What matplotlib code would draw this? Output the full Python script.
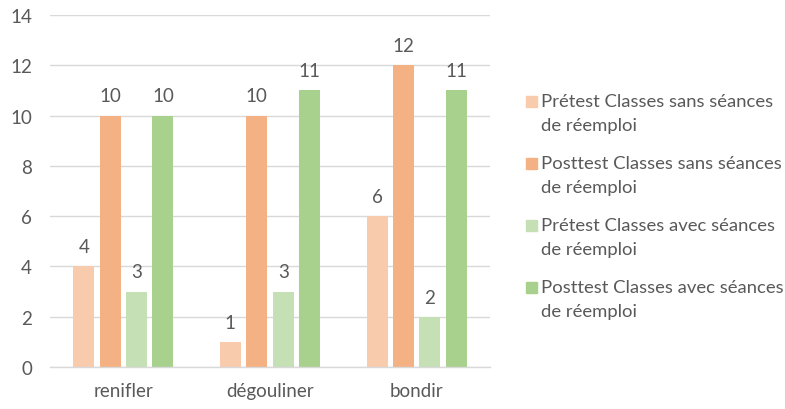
import numpy as np
import matplotlib.pyplot as plt
from matplotlib.patches import Rectangle

plt.rcParams['font.family'] = ['Lato', 'DejaVu Sans']

categories = ['renifler', 'dégouliner', 'bondir']
series_names = ['Prétest Classes sans séances\nde réemploi',
                'Posttest Classes sans séances\nde réemploi',
                'Prétest Classes avec séances\nde réemploi',
                'Posttest Classes avec séances\nde réemploi']
pretest_sans = [4, 1, 6]
posttest_sans = [10, 10, 12]
pretest_avec = [3, 3, 2]
posttest_avec = [10, 11, 11]
colors = ['#F8CBAD', '#F4B183', '#C5E0B4', '#A9D18E']

series = [pretest_sans, posttest_sans, pretest_avec, posttest_avec]
text_col = '#595959'
W, H = 785, 410

fig = plt.figure(figsize=(7.85, 4.1), dpi=100)
ax = fig.add_axes([50 / W, 1 - 368 / H, 440 / W, 352 / H])

x = np.arange(len(categories))
width = 0.143
step = 0.18
for i, (vals, c) in enumerate(zip(series, colors)):
    pos = x + (i - 1.5) * step
    bars = ax.bar(pos, vals, width, color=c, zorder=3)
    ax.bar_label(bars, padding=8, fontsize=13.5, color=text_col)

ax.set_xlim(-0.5, 2.5)
ax.set_ylim(0, 14)
ax.set_yticks(range(0, 15, 2))
ax.set_xticks(x)
ax.set_xticklabels(categories)
ax.tick_params(length=0, labelsize=13.5, colors=text_col)
ax.tick_params(axis='y', pad=13)
ax.tick_params(axis='x', pad=11)
ax.grid(axis='y', color='#D9D9D9', linewidth=1, zorder=0)
for s in ['top', 'right', 'left']:
    ax.spines[s].set_visible(False)
ax.spines['bottom'].set_color('#D9D9D9')
ax.spines['bottom'].set_linewidth(1)
ax.spines['bottom'].set_zorder(4)

# légende dessinée à la main (carré aligné sur la 1re ligne)
for i, (name, c) in enumerate(zip(series_names, colors)):
    yc = 102 + 62 * i
    fig.patches.append(Rectangle((526 / W, 1 - (yc + 5.5) / H), 11 / W, 11 / H,
                                 transform=fig.transFigure, color=c))
    for j, line in enumerate(name.split('\n')):
        fig.text(541 / W, 1 - (yc + 24 * j) / H, line, fontsize=13.3,
                 color=text_col, va='center')

fig.savefig('out.png', dpi=100)
